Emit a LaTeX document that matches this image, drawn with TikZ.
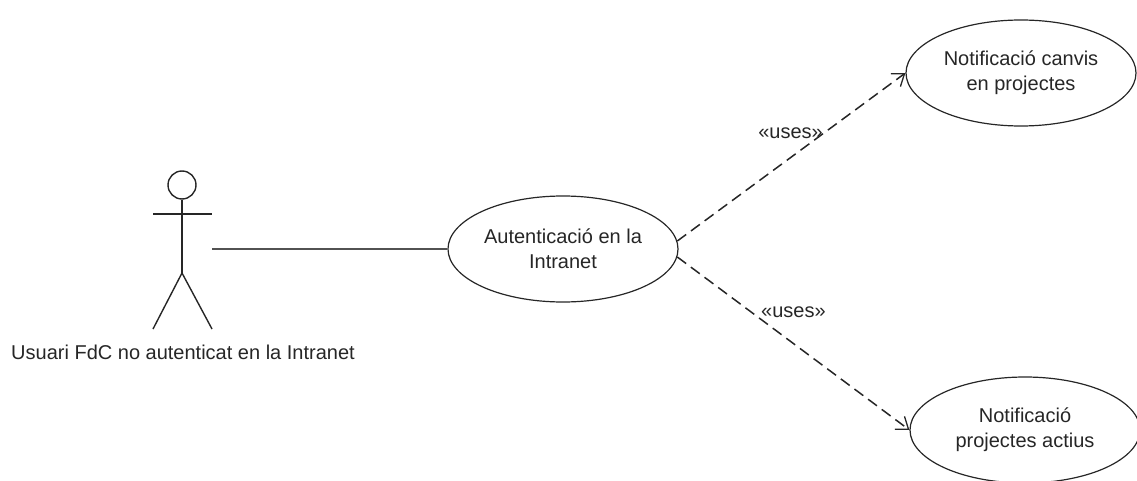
\documentclass[tikz,border=0pt]{standalone}
\usepackage{fontspec}
\setmainfont{Liberation Sans}
\usetikzlibrary{shapes.geometric,arrows.meta}
\definecolor{ink}{gray}{0.15}
\tikzset{
  usecase/.style={draw=ink, line width=1.2pt, ellipse, minimum width=230pt, minimum height=106pt, inner sep=0pt, align=center, text=ink, font=\fontsize{20}{25}\selectfont},
  actorline/.style={draw=ink, line width=1.4pt},
  assoc/.style={draw=ink!80, line width=2pt},
  usesline/.style={draw=ink, line width=1.5pt, dash pattern=on 11pt off 6pt, -{Straight Barb[length=11pt, width=16pt, line width=1.3pt]}},
  lbl/.style={text=ink, font=\fontsize{20}{24}\selectfont, inner sep=0pt}
}
\begin{document}
\begin{tikzpicture}[x=1pt, y=-1pt]
\useasboundingbox (0,0) rectangle (1137,481);
% actor
\node[draw=ink, line width=1.4pt, circle, minimum size=28pt, inner sep=0pt] (head) at (182,185) {};
\coordinate (hip) at (182,273);
\coordinate (larm) at (153,214);
\coordinate (rarm) at (212,214);
\coordinate (lfoot) at (153,329);
\coordinate (rfoot) at (212,329);
\draw[actorline] (head.south) -- (hip);
\draw[actorline] (larm) -- (rarm);
\draw[actorline] (lfoot) -- (hip) -- (rfoot);
\node[lbl] (actorlbl) at (183,352) {Usuari FdC no autenticat en la Intranet};
\coordinate (hand) at (212,249);
% use cases
\node[usecase] (auth) at (563,249) {Autenticació en la\\Intranet};
\node[usecase] (n1) at (1021,73) {Notificació canvis\\en projectes};
\node[usecase] (n2) at (1025,430) {Notificació\\projectes actius};
% connectors
\draw[assoc] (hand) -- (auth.west);
\draw[usesline] (auth.4) -- (n1.west);
\draw[usesline] (auth.-4) -- (n2.west);
\node[lbl, anchor=east] (u1) at (823,133) {«uses»};
\node[lbl, anchor=west] (u2) at (761,312) {«uses»};
\end{tikzpicture}
\end{document}
